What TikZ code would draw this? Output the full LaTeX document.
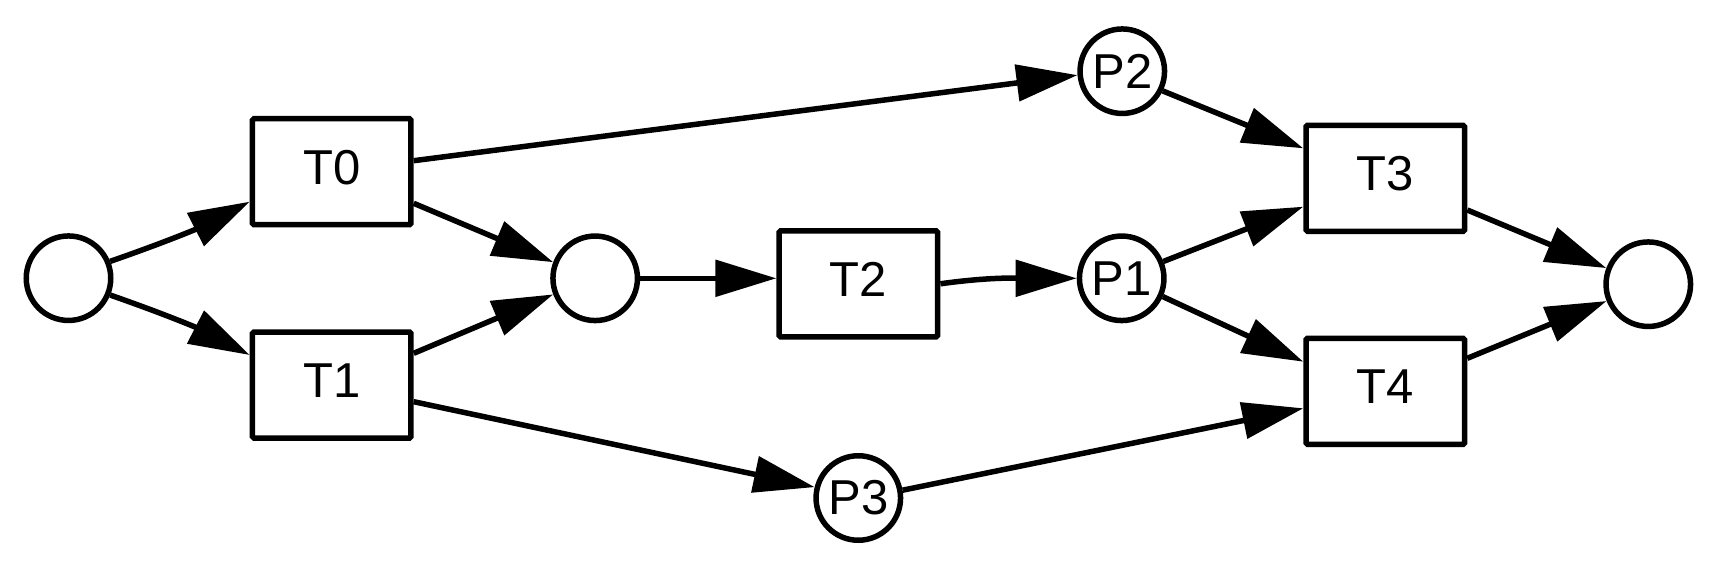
\documentclass[tikz,border=0pt]{standalone}
\usepackage{fontspec}
\setmainfont{Liberation Sans}
\usetikzlibrary{arrows.meta}
\begin{document}
\begin{tikzpicture}[x=1pt,y=1pt,
  place/.style={circle,draw,fill=white,line width=5.5pt,minimum size=84.5pt,inner sep=0pt,font=\fontsize{49}{58}\selectfont},
  trans/.style={rectangle,draw,fill=white,line width=5.5pt,rounded corners=1.5pt,minimum width=158.5pt,minimum height=106pt,inner sep=0pt,font=\fontsize{49}{58}\selectfont,text height=35pt,text depth=10pt},
  arc/.style={line width=5.5pt,-{Triangle[length=61pt,width=36pt]}}]
\fill[white] (0,0) rectangle (1725,-567);
\useasboundingbox (0,0) rectangle (1725,-567);
\node[place] (c0) at (68.5,-278.2) {};
\node[trans] (T0) at (331.7,-171.7) {T0};
\node[trans] (T1) at (331.7,-385) {T1};
\node[place] (c1) at (595.2,-278.3) {};
\node[trans] (T2) at (858.4,-283.8) {T2};
\node[place] (P1) at (1121.7,-278.3) {P1};
\node[place] (P2) at (1122.3,-71.2) {P2};
\node[place] (P3) at (858.3,-498) {P3};
\node[trans] (T3) at (1385.3,-178.3) {T3};
\node[trans] (T4) at (1385.3,-391.3) {T4};
\node[place] (cend) at (1648.3,-284.2) {};
\draw[arc] (c0.22) to[bend right=4] ([yshift=-30pt]T0.west);
\draw[arc] (c0.-22) to[bend left=4] ([yshift=30pt]T1.west);
\draw[arc] ([yshift=-31.6pt]T0.east) -- (c1.159);
\draw[arc] ([yshift=31.7pt]T1.east) -- (c1.201);
\draw[arc] ([yshift=11pt]T0.east) -- (P2.185);
\draw[arc] (c1.east) -- (c1.east -| T2.west);
\draw[arc] (T2.east) to[out=8,in=180] (P1.west);
\draw[arc] ([yshift=-16.7pt]T1.east) -- (P3.166);
\draw[arc] (P3.10) -- ([yshift=-17pt]T4.west);
\draw[arc] (P2.-26) -- ([yshift=30pt]T3.west);
\draw[arc] (P1.22) -- ([yshift=-28.4pt]T3.west);
\draw[arc] (P1.-24) -- ([yshift=29.6pt]T4.west);
\draw[arc] ([yshift=-31.7pt]T3.east) -- (cend.159);
\draw[arc] ([yshift=33pt]T4.east) -- (cend.202);
\end{tikzpicture}
\end{document}
